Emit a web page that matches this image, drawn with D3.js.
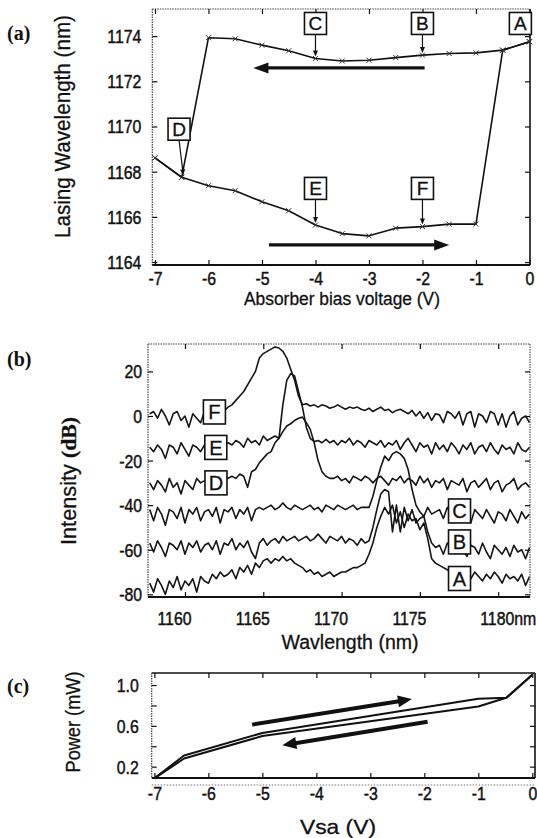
<!DOCTYPE html>
<html><head><meta charset="utf-8">
<script src="https://cdn.jsdelivr.net/npm/d3@7"></script>
<style>body{margin:0;background:#fff}svg{display:block}</style>
</head><body>
<svg id="chart" width="537" height="838"></svg>
<script>
// ---------------- Panel (a) data ----------------
const voltTicks = [-7, -6, -5, -4, -3, -2, -1, 0];
const wlTicks = [1164, 1166, 1168, 1170, 1172, 1174];
const sweepDownV  = [0, -0.5, -1, -1.5, -2, -2.5, -3, -3.5, -4, -4.5, -5, -5.5, -6, -6.5, -7];
const sweepDownWl = [1173.75, 1173.38, 1173.26, 1173.23, 1173.16, 1173.05, 1172.93, 1172.9, 1173.01, 1173.35, 1173.6, 1173.88, 1173.93, 1167.75, 1168.61];
const sweepUpV  = [-7, -6.5, -6, -5.5, -5, -4.5, -4, -3.5, -3, -2.5, -2, -1.5, -1, -0.5, 0];
const sweepUpWl = [1168.61, 1167.75, 1167.38, 1167.16, 1166.67, 1166.27, 1165.64, 1165.26, 1165.16, 1165.5, 1165.57, 1165.68, 1165.68, 1173.38, 1173.75];
const labelsA = ['A', 'B', 'C', 'D', 'E', 'F'];
const labelsAV  = [-0.17, -2, -4, -6.55, -4, -2];
const labelsAWl = [1174.56, 1174.56, 1174.56, 1169.88, 1167.26, 1167.26];
const pointerAV  = [null, -2, -4, -6.47, -4, -2];
const pointerAWl = [null, 1173.16, 1173.01, 1167.75, 1165.64, 1165.57];
const arrowsAV  = [[-1.96, -5.16], [-4.87, -1.50]];
const arrowsAWl = [1172.59, 1164.76];

// ---------------- Panel (b) data ----------------
const specTicks = [1160, 1165, 1170, 1175, 1180];
const dbTicks = [-80, -60, -40, -20, 0, 20];
const specStart = 1157.75, specStep = 0.25;
const specF = [1,2,-1,3,0,-4,1,2,-2,0, -5,1,-1,-3,2,1,3,2,3,2, 4,5,7,9,11,14,17,20,26,28,
  29,30,31,30.5,29,26,21,16,9,5, 5.5,4.5,5,4,5,4.5,3.5,4,5,4, 3,4,3.5,4,3,2.5,3.5,2,3,4,
  2.5,3,1.5,2.5,3,2,1,2.5,0,2, -1,1.5,-2,1,0.5,-3,2,1,-1,2, -4,1,2,-5,1,0,-3,2,1,-4, 1,-5,0,2,-4,-1,0,-3];
const specE = [-14,-16,-13,-15,-19,-13,-14,-17,-12,-15, -18,-13,-14,-16,-13,-12,-14,-13,-13,-12,
  -12,-13,-11,-12,-14,-10,-12,-11,-13,-9, -11,-10,-9,-10,5,16,19,18,11,4,
  -5,-10,-11.5,-11,-12,-10.5,-12,-11,-13,-11, -12,-10,-13,-11,-12,-14,-11,-12,-13,-11,
  -14,-12,-13,-11,-15,-12,-10,-13,-16,-12, -14,-13,-17,-12,-15,-13,-16,-12,-14,-17,
  -13,-15,-12,-17,-14,-13,-16,-12,-15,-17, -13,-15,-14,-17,-12,-15,-16,-14];
const specD = [-30,-33,-29,-31,-34,-28,-32,-30,-35,-29, -31,-33,-28,-30,-29,-30,-29,-28,-29,-28,
  -28,-27,-28,-26,-27,-32,-25,-24,-21,-19, -17,-16,-12,-10,-7,-4.5,-3.5,-2,-1,-0.5,
  -3,-6,-12,-20,-25,-27,-28,-28,-27,-29, -28,-30,-27,-28,-29,-27,-28,-30,-28,-27,
  -29,-31,-28,-29,-27,-30,-28,-29,-31,-27, -30,-28,-32,-29,-30,-28,-33,-29,-30,-31,
  -28,-34,-30,-29,-32,-30,-28,-33,-30,-29, -34,-31,-30,-28,-33,-31,-30,-32];
const specC = [-42,-47,-41,-44,-49,-42,-43,-46,-41,-48, -42,-44,-41,-47,-43,-42,-45,-41,-48,-42,
  -43,-41,-46,-42,-44,-41,-47,-42,-41,-42, -41,-40,-42,-41,-39,-41,-42,-40,-41,-42,
  -41,-40,-42,-41,-43,-40,-41,-42,-40,-41, -42,-41,-40,-42,-41,-41,-41,-36,-29,-23,
  -18,-20,-17,-16,-17,-19,-24,-33,-40,-43, -45,-41,-44,-43,-42,-46,-41,-44,-47,-42,
  -45,-43,-48,-42,-44,-46,-42,-45,-48,-43, -44,-47,-42,-45,-48,-43,-46,-44];
const specB = [-57,-61,-56,-59,-63,-57,-58,-60,-56,-62, -57,-59,-56,-61,-58,-57,-60,-56,-62,-57,
  -58,-55,-60,-57,-59,-56,-61,-64,-57,-55, -58,-56,-55,-57,-54,-56,-55,-54,-56,-55,
  -54,-56,-55,-53,-55,-57,-54,-55,-56,-54, -57,-55,-56,-58,-55,-57,-56,-50,-42,-35,
  -33,-34,-52,-40,-52,-41,-47,-42,-48,-46, -45,-52,-57,-59,-58,-62,-57,-59,-61,-57,
  -60,-63,-58,-59,-62,-57,-61,-64,-58,-60, -62,-59,-63,-58,-61,-60,-64,-59];
const specA = [-75,-79,-73,-76,-80,-74,-77,-72,-78,-74, -76,-73,-79,-72,-74,-75,-71,-73,-70,-72,
  -71,-69,-73,-68,-70,-67,-71,-66,-68,-65, -64,-66,-64,-65,-63,-65,-64,-66,-67,-68,
  -70,-69,-71,-70,-72,-71,-70,-72,-71,-70, -70,-69,-68,-68,-67,-66,-62,-57,-50,-45,
  -41,-44,-40,-48,-43,-50,-44,-47,-46,-51, -48,-55,-64,-66,-67,-68,-69,-70,-71,-70,
  -72,-71,-73,-70,-72,-74,-71,-73,-70,-72, -75,-71,-73,-72,-74,-71,-76,-72];
const labelsB = ['F', 'E', 'D', 'C', 'B', 'A'];
const labelsBWl = [1161.88, 1161.97, 1161.98, 1177.53, 1177.53, 1177.53];
const labelsBDb = [1.8, -14.1, -30, -42.6, -56.5, -72.9];

// ---------------- Panel (c) data ----------------
const powTicks = [0.2, 0.4, 0.6, 0.8, 1.0];
const powLabelled = [0.2, 0.6, 1.0];
const upV = [-7, -6.45, -5, -1, -0.48, 0];
const upP = [0.085, 0.31, 0.53, 0.865, 0.875, 1.10];
const downV = [0, -0.48, -1, -5, -6.45, -7];
const downP = [1.10, 0.875, 0.79, 0.50, 0.28, 0.085];
const arrowsCV = [[-5.19, -2.23], [-1.94, -4.63]];
const arrowsCP = [[0.612, 0.862], [0.64, 0.41]];

// ---------------- drawing ----------------
const svg = d3.select('#chart');
const SANS = "'Liberation Sans', Arial, sans-serif";
const SERIF = "'Liberation Serif', 'Times New Roman', serif";
const K = 0.88; // horizontal condensing of text
const TFS = 18; // tick font size

function frame(x0, x1, y0, y1, sides) {
  const seg = {top: [x0, y0, x1, y0], bottom: [x0, y1, x1, y1], left: [x0, y0, x0, y1], right: [x1, y0, x1, y1]};
  for (const s of Object.keys(sides)) {
    const st = sides[s], c = seg[s];
    svg.append('line').attr('x1', c[0]).attr('y1', c[1]).attr('x2', c[2]).attr('y2', c[3])
      .attr('stroke', st.c).attr('stroke-width', st.w).attr('stroke-dasharray', st.d || null);
  }
}
function styleTicks(g, fs, k) {
  g.select('.domain').remove();
  g.selectAll('.tick line').attr('stroke', '#111').attr('stroke-width', 1.2);
  g.selectAll('.tick text').attr('font-family', SANS).attr('font-size', fs).attr('fill', '#111')
    .attr('stroke', '#111').attr('stroke-width', 0.45)
    .each(function () { const t = d3.select(this); const x = +t.attr('x') || 0; t.attr('x', x / k).attr('transform', `scale(${k},1)`); });
}
function title(x, y, txt, fs, len, rot, parts) {
  const g = svg.append('g').attr('transform', `translate(${x},${y})` + (rot ? ' rotate(-90)' : ''));
  const t = g.append('text').attr('text-anchor', 'middle').attr('font-family', SANS).attr('font-size', fs).attr('fill', '#111')
    .attr('stroke', '#111').attr('stroke-width', 0.3)
    .attr('textLength', len).attr('lengthAdjust', 'spacingAndGlyphs');
  if (parts) parts.forEach(p => t.append('tspan').attr('font-family', p.f || SANS).attr('font-weight', p.b ? 'bold' : null).text(p.t));
  else t.text(txt);
}
function panelTag(y, txt) {
  svg.append('text').attr('x', 7).attr('y', y).attr('font-family', SERIF).attr('font-weight', 'bold').attr('font-size', 20).attr('fill', '#111').text(txt);
}
function arrow(x1, y1, x2, y2, w, hl, hw, col) {
  const a = Math.atan2(y2 - y1, x2 - x1), ca = Math.cos(a), sa = Math.sin(a);
  const bx = x2 - hl * ca, by = y2 - hl * sa;
  svg.append('line').attr('x1', x1).attr('y1', y1).attr('x2', bx + 1 * ca).attr('y2', by + 1 * sa)
    .attr('stroke', col || '#111').attr('stroke-width', w);
  svg.append('path').attr('d', `M${x2},${y2}L${bx - hw / 2 * sa},${by + hw / 2 * ca}L${bx + hw / 2 * sa},${by - hw / 2 * ca}Z`)
    .attr('fill', col || '#111');
}
function box(cx, cy, w, h, letter, fs) {
  svg.append('rect').attr('x', cx - w / 2).attr('y', cy - h / 2).attr('width', w).attr('height', h)
    .attr('fill', '#fff').attr('stroke', '#111').attr('stroke-width', 1.6);
  svg.append('text').attr('x', cx).attr('y', cy + fs * 0.36).attr('text-anchor', 'middle')
    .attr('font-family', SANS).attr('font-size', fs).attr('fill', '#111').attr('stroke', '#111').attr('stroke-width', 0.3).text(letter);
}

// ===== Panel (a) =====
const ax0 = 152.3, ax1 = 530, ay0 = 9, ay1 = 265;
const xa = d3.scaleLinear().domain([-7.05, 0.01]).range([ax0, ax1]);
const ya = d3.scaleLinear().domain([1163.87, 1175.2]).range([ay1, ay0]);
frame(ax0, ax1, ay0, ay1, {top: {c: '#444', w: 1.2, d: '1.5,1'}, left: {c: '#444', w: 1.2, d: '1.5,1'}, right: {c: '#111', w: 1.6}, bottom: {c: '#111', w: 2}});
let g = svg.append('g').attr('transform', `translate(0,${ay1})`).call(d3.axisBottom(xa).tickValues(voltTicks).tickSize(-5).tickFormat(d => String(d)));
styleTicks(g, TFS, K); g.selectAll('.tick text').attr('y', 20).attr('dy', null);
g = svg.append('g').attr('transform', `translate(0,${ay0})`).call(d3.axisTop(xa).tickValues(voltTicks).tickSize(-5).tickFormat(''));
styleTicks(g, TFS, K);
g = svg.append('g').attr('transform', `translate(${ax0},0)`).call(d3.axisLeft(ya).tickValues(wlTicks).tickSize(-5).tickFormat(d => String(d)));
styleTicks(g, TFS, K); g.selectAll('.tick text').attr('x', -11 / K).attr('dy', '0.36em');
g = svg.append('g').attr('transform', `translate(${ax1},0)`).call(d3.axisRight(ya).tickValues(wlTicks).tickSize(-5).tickFormat(''));
styleTicks(g, TFS, K);

const lineA = d3.line().x(d => xa(d[0])).y(d => ya(d[1]));
const downPts = sweepDownV.map((v, i) => [v, sweepDownWl[i]]);
const upPts = sweepUpV.map((v, i) => [v, sweepUpWl[i]]);
[downPts, upPts].forEach(pts => {
  svg.append('path').attr('d', lineA(pts)).attr('fill', 'none').attr('stroke', '#111').attr('stroke-width', 1.6).attr('stroke-linejoin', 'round');
  pts.forEach(p => {
    const x = xa(p[0]), y = ya(p[1]);
    svg.append('path').attr('d', `M${x - 2.5},${y - 2.5}L${x + 2.5},${y + 2.5}M${x - 2.5},${y + 2.5}L${x + 2.5},${y - 2.5}`)
      .attr('stroke', '#333').attr('stroke-width', 1);
  });
});
arrowsAV.forEach((vv, i) => arrow(xa(vv[0]), ya(arrowsAWl[i]), xa(vv[1]), ya(arrowsAWl[i]), 3.2, 15, 11));
labelsA.forEach((L, i) => {
  const cx = xa(labelsAV[i]), cy = ya(labelsAWl[i]);
  if (pointerAV[i] !== null) arrow(cx, cy + 11, xa(pointerAV[i]), ya(pointerAWl[i]) - 2, 1.2, 6, 5);
  box(cx, cy, 22, 22, L, 19);
});
title(70, 126.5, 'Lasing Wavelength (nm)', 22, 223, true);
title(342, 305, 'Absorber bias voltage (V)', 18, 196, false);
panelTag(40, '(a)');

// ===== Panel (b) =====
const bx0 = 148, bx1 = 530, by0 = 344, by1 = 597;
const xb = d3.scaleLinear().domain([1157.64, 1182.03]).range([bx0, bx1]);
const yb = d3.scaleLinear().domain([-81.2, 32.3]).range([by1, by0]);
const wlGrid = d3.range(specF.length).map(i => specStart + i * specStep);
const lineB = d3.line().x((d, i) => xb(wlGrid[i])).y(d => yb(d));
[specA, specB, specC, specD, specE, specF].forEach(s => {
  svg.append('path').attr('d', lineB(s)).attr('fill', 'none').attr('stroke', '#151515').attr('stroke-width', 1.6).attr('stroke-linejoin', 'round');
});
frame(bx0, bx1, by0, by1, {top: {c: '#444', w: 1.2, d: '1.5,1'}, left: {c: '#444', w: 1.2, d: '1.5,1'}, right: {c: '#555', w: 1.2, d: '1.5,1'}, bottom: {c: '#111', w: 2}});
g = svg.append('g').attr('transform', `translate(0,${by1})`).call(d3.axisBottom(xb).tickValues(specTicks).tickSize(-5).tickFormat(d => d === 1180 ? '' : String(d)));
styleTicks(g, TFS, K); g.selectAll('.tick text').attr('y', 28).attr('dy', null).attr('x', -11 / K);
svg.append('text').attr('transform', `translate(${xb(1180) - 18},${by1 + 28}) scale(${K},1)`).attr('font-family', SANS).attr('font-size', TFS)
  .attr('fill', '#111').attr('stroke', '#111').attr('stroke-width', 0.45).text('1180nm');
g = svg.append('g').attr('transform', `translate(0,${by0})`).call(d3.axisTop(xb).tickValues(specTicks).tickSize(-5).tickFormat(''));
styleTicks(g, TFS, K);
g = svg.append('g').attr('transform', `translate(${bx0},0)`).call(d3.axisLeft(yb).tickValues(dbTicks).tickSize(-5).tickFormat(d => String(d)));
styleTicks(g, TFS, K); g.selectAll('.tick text').attr('x', -6 / K).attr('dy', '0.36em');
g = svg.append('g').attr('transform', `translate(${bx1},0)`).call(d3.axisRight(yb).tickValues(dbTicks).tickSize(-5).tickFormat(''));
styleTicks(g, TFS, K);
labelsB.forEach((L, i) => box(xb(labelsBWl[i]), yb(labelsBDb[i]), 22, 24, L, 20));
title(76, 481, null, 22, 128, true, [{t: 'Intensity '}, {t: '(dB)', f: SERIF, b: true}]);
title(350, 649, 'Wavlength (nm)', 20, 137, false);
panelTag(366, '(b)');

// ===== Panel (c) =====
const cx0 = 151.7, cx1 = 535, cy0 = 673, cy1 = 778;
const xc = d3.scaleLinear().domain([-7.05, 0.05]).range([cx0, cx1]);
const yc = d3.scaleLinear().domain([0.089, 1.118]).range([cy1, cy0]);
frame(cx0, cx1, cy0, cy1, {top: {c: '#111', w: 1.6}, left: {c: '#444', w: 1.2, d: '1.5,1'}, right: {c: '#111', w: 1.6}, bottom: {c: '#111', w: 2}});
svg.append('line').attr('x1', cx0).attr('x2', cx1).attr('y1', cy1 + 7).attr('y2', cy1 + 7).attr('stroke', '#777').attr('stroke-width', 1).attr('stroke-dasharray', '1.5,1.5');
g = svg.append('g').attr('transform', `translate(0,${cy1})`).call(d3.axisBottom(xc).tickValues(voltTicks).tickSize(-5).tickFormat(d => String(d)));
styleTicks(g, TFS, K); g.selectAll('.tick text').attr('y', 22).attr('dy', null);
g = svg.append('g').attr('transform', `translate(0,${cy0})`).call(d3.axisTop(xc).tickValues(voltTicks).tickSize(-5).tickFormat(''));
styleTicks(g, TFS, K);
g = svg.append('g').attr('transform', `translate(${cx0},0)`).call(d3.axisLeft(yc).tickValues(powTicks).tickSize(-5).tickFormat(d => powLabelled.includes(d) ? d.toFixed(1) : ''));
styleTicks(g, TFS, K); g.selectAll('.tick text').attr('x', -13 / K).attr('dy', '0.36em');
g = svg.append('g').attr('transform', `translate(${cx1},0)`).call(d3.axisRight(yc).tickValues(powTicks).tickSize(-5).tickFormat(''));
styleTicks(g, TFS, K);
const lineC = d3.line().x(d => xc(d[0])).y(d => yc(d[1]));
[upV.map((v, i) => [v, upP[i]]), downV.map((v, i) => [v, downP[i]])].forEach(pts => {
  svg.append('path').attr('d', lineC(pts)).attr('fill', 'none').attr('stroke', '#111').attr('stroke-width', 2).attr('stroke-linejoin', 'round');
});
arrowsCV.forEach((vv, i) => arrow(xc(vv[0]), yc(arrowsCP[i][0]), xc(vv[1]), yc(arrowsCP[i][1]), 4, 14, 12));
title(80, 722, 'Power (mW)', 21, 101, true);
title(338, 834, 'Vsa (V)', 21, 76, false);
panelTag(693, '(c)');
</script>
</body></html>
